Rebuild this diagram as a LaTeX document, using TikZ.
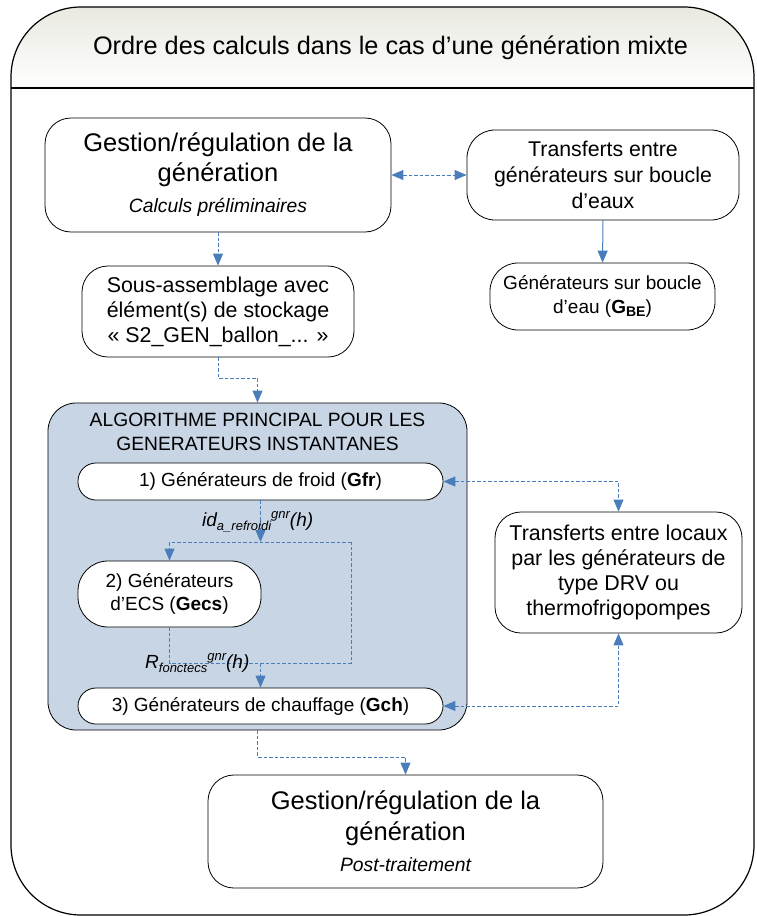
\documentclass[tikz,border=0pt]{standalone}
\usepackage{fontspec}
\setmainfont{Liberation Sans}
\usetikzlibrary{arrows.meta}
\definecolor{arrowblue}{HTML}{4A7EBB}
\definecolor{algofill}{HTML}{C8D5E5}
\definecolor{headtop}{HTML}{E9E9E1}
\newcommand\fsz[2]{\fontsize{#1}{#2}\selectfont}
\begin{document}
\begin{tikzpicture}[x=1pt,y=-1pt,
  box/.style={draw=black, line width=0.8pt, fill=white, align=center, inner sep=0pt, rounded corners=#1},
  box/.default=26pt,
  conn/.style={draw=arrowblue, line width=0.9pt, dash pattern=on 3.5pt off 2pt},
  solidconn/.style={draw=arrowblue, line width=1pt},
  >={Triangle[length=12pt,width=10pt]},
  lbl/.style={anchor=base west, inner sep=0pt, font=\fsz{19}{23}\itshape}]
\useasboundingbox (0,0) rectangle (756,916);
% outer container
\fill[white,rounded corners=70pt] (11,7) rectangle (754,915);
\begin{scope}
  \clip[rounded corners=70pt] (11,7) rectangle (754,915);
  \fill[top color=headtop, bottom color=white] (11,7) rectangle (754,88);
\end{scope}
\draw[line width=1.2pt, rounded corners=70pt] (11,7) rectangle (754,915);
\draw[line width=1.2pt] (11,88) -- (754,88);
\node[anchor=base, inner sep=0pt, font=\fsz{25.3}{30}] (title) at (390.5,54) {Ordre des calculs dans le cas d’une génération mixte};

% top boxes
\node[box, minimum width=346pt, minimum height=114pt, font=\fsz{25.5}{30}] (b1) at (218,175)
  {Gestion/régulation de la\\génération\\[1pt]{\fsz{19.3}{22}\itshape Calculs préliminaires}};
\node[box=28pt, minimum width=272pt, minimum height=90pt, font=\fsz{21.3}{26}] (b2) at (603,175)
  {Transferts entre\\générateurs sur boucle\\d’eaux};
\node[box=28pt, minimum width=225pt, minimum height=67pt, font=\fsz{19}{24}] (b3) at (602.5,296.5)
  {Générateurs sur boucle\\d’eau (\textbf{G}\raisebox{-2.5pt}{\fsz{14}{14}\bfseries BE})};
\node[box, minimum width=272pt, minimum height=91pt, font=\fsz{21.4}{25}] (b4) at (218,311.5)
  {Sous-assemblage avec\\élément(s) de stockage\\« S2\_GEN\_ballon\_... »};

% algorithm container
\node[draw=black, line width=0.8pt, fill=algofill, rounded corners=28pt, minimum width=419pt, minimum height=327pt, inner sep=0pt] (algo) at (257.5,566.5) {};
\node[align=center, inner sep=0pt, font=\fsz{19.25}{24}] (algotitle) at (257.5,432)
  {ALGORITHME PRINCIPAL POUR LES\\GENERATEURS INSTANTANES};
\node[box=18pt, minimum width=365pt, minimum height=37pt, font=\fsz{19}{23}] (gfr) at (260.5,481.5)
  {1) Générateurs de froid (\textbf{Gfr})};
\node[box=30pt, minimum width=183pt, minimum height=66pt, font=\fsz{19}{23}] (gecs) at (169.5,594)
  {2) Générateurs\\d’ECS (\textbf{Gecs})};
\node[box=18pt, minimum width=365pt, minimum height=36pt, font=\fsz{19}{23}] (gch) at (260.5,706)
  {3) Générateurs de chauffage (\textbf{Gch})};

% right DRV box
\node[box, minimum width=247pt, minimum height=121pt, font=\fsz{21.4}{25}] (drv) at (618.5,572.5)
  {Transferts entre locaux\\par les générateurs de\\type DRV ou\\thermofrigopompes};

% bottom box
\node[box, minimum width=395pt, minimum height=113pt, font=\fsz{25.5}{31}] (bot) at (405.5,831.5)
  {Gestion/régulation de la\\génération\\[0pt]{\fsz{19.3}{22}\itshape Post-traitement}};

% junction coordinates
\coordinate (split) at (260.5,542);
\coordinate (jl) at (169.5,542);
\coordinate (jr) at (351,542);
\coordinate (ml) at (169.5,663);
\coordinate (mr) at (351,663);
\coordinate (merge) at (260.5,663);

% connectors
\draw[conn,<->] (b1.east) -- (b2.west);
\draw[solidconn,->] (b2.south) -- (b3.north);
\draw[conn,->] (b1.south) -- (b4.north);
\draw[conn,->] (b4.south) -- ++(0,21) -| (algo.north);
\draw[conn,->] (gfr.south) -- (split);
\draw[conn,->] (jr) -- (jl) -- (gecs.north);
\draw[conn] (gecs.south) -- (ml) -- (mr) -- (jr);
\draw[conn,->] (merge) -- (gch.north);
\draw[conn,<->] (gfr.east) -| (drv.north);
\draw[conn,<->] (gch.east) -| (drv.south);
\draw[conn,->] (algo.south) -- ++(0,27) -| (bot.north);

% labels
\node[lbl] (lab1) at (202,526) {id\raisebox{-4pt}{\fsz{13}{13}a\_refroidi}\raisebox{8pt}{\fsz{13}{13}gnr}(h)};
\node[lbl] (lab2) at (145,668) {R\raisebox{-4pt}{\fsz{13}{13}fonctecs}\raisebox{8pt}{\fsz{13}{13}gnr}(h)};
\end{tikzpicture}
\end{document}
